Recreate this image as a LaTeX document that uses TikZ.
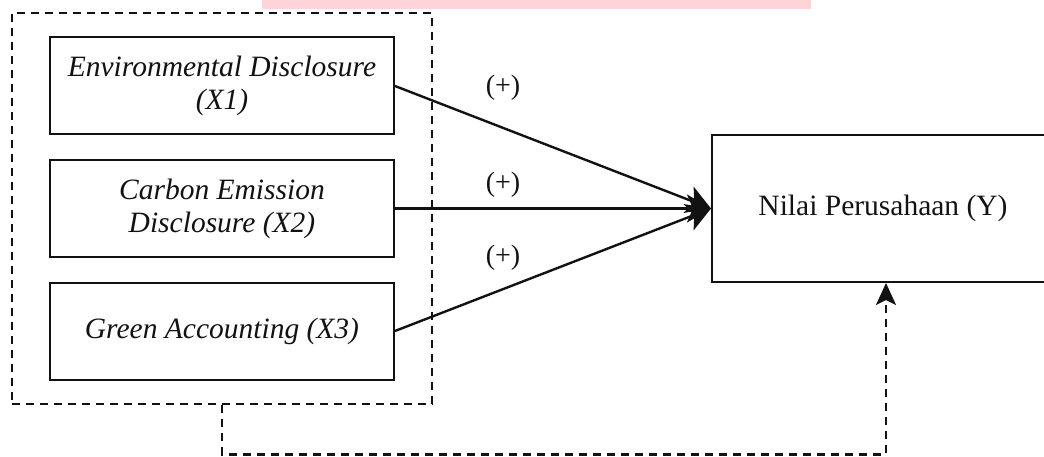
\documentclass[tikz,border=0pt]{standalone}
\usepackage{fontspec}
\setmainfont{Liberation Serif}
\usepackage{tikz}
\usepackage{xcolor}
\usetikzlibrary{arrows.meta}
\usetikzlibrary{positioning}

\begin{document}
\begin{tikzpicture}[x={1pt}, y={-1pt},
		varbox/.style={draw, line width={2pt}, color={ALMOST_BLACK!100}, fill={WHITE!100}, minimum width={344pt}, minimum height={97pt}, inner sep={0pt}, align=center, font={\fontsize{29.5}{33}\selectfont\itshape}},
		groupbox/.style={draw, dash pattern={on 8pt off 6pt}, line width={2.6pt}, color={ALMOST_BLACK!100}, minimum width={420pt}, minimum height={391pt}, inner sep={0pt}},
		effect/.style={draw, line width={2.4pt}, color={ALMOST_BLACK!100}, -{Stealth[length=24pt, width=28pt, inset=6pt]}},
		sign/.style={inner sep={0pt}, color={ALMOST_BLACK!100}, font={\fontsize{28}{30}\selectfont}}]
				\definecolor{WHITE}{RGB}{255, 255, 255}
				\definecolor{ALMOST_BLACK}{RGB}{18, 18, 18}
				\definecolor{PINK_BAR}{RGB}{255, 212, 216}
				\clip (0, 0) rectangle (1044, 457);
				\fill[PINK_BAR] (262, 0) rectangle (811, 9);

				% independent variables
				\node[groupbox] (grp) at (222, 208.5) {};
				\node[varbox] (envdisc) at (222, 86) {Environmental Disclosure\\(X1)};
				\node[varbox] (carbdisc) at (222, 208.5) {Carbon Emission\\Disclosure (X2)};
				\node[varbox] (greenacc) at (222, 331) {Green Accounting (X3)};

				% dependent variable
				\node[draw, line width={2pt}, color={ALMOST_BLACK!100}, minimum width={348pt}, minimum height={147pt}, inner sep={0pt}, font={\fontsize{29.5}{33}\selectfont}] (nilai) at (886, 208.5) {\hspace*{-6pt}Nilai Perusahaan (Y)};

				\draw[effect] (envdisc.east) -- (nilai.west);
				\draw[effect] (carbdisc.east) -- (nilai.west);
				\draw[effect] (greenacc.east) -- (nilai.west);

				\node[sign] (sgnone) at (503, 88) {(+)};
				\node[sign] (sgntwo) at (503, 185) {(+)};
				\node[sign] (sgnthree) at (503, 258) {(+)};

				\draw[dash pattern={on 8pt off 6pt}, line width={2.6pt}, color={ALMOST_BLACK!100}, -{Stealth[length=22pt, width=20pt, inset=5pt]}] (grp.south) -- ++(0, 49) -| (nilai.south);
\end{tikzpicture}
\end{document}
